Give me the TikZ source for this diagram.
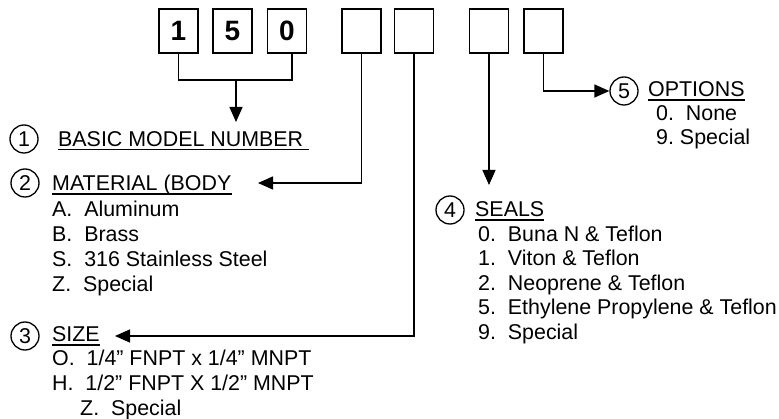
\documentclass[tikz,border=0pt]{standalone}
\usepackage{fontspec}
\setmainfont{Liberation Sans}
\usetikzlibrary{arrows.meta}
\frenchspacing
\begin{document}
\begin{tikzpicture}[x=1pt,y=-1pt,
  txt/.style={anchor=base west, inner sep=0pt, font=\fontsize{21.4}{25}\selectfont},
  digitbox/.style={draw, line width=1.6pt, minimum width=39pt, minimum height=44pt, inner sep=0pt, font=\fontsize{28}{28}\selectfont\bfseries},
  numcircle/.style={draw, circle, line width=1.3pt, minimum size=28pt, inner sep=0pt, font=\fontsize{21.4}{21}\selectfont},
  conn/.style={line width=1.4pt},
  arr/.style={conn, -{Triangle[length=15pt,width=13pt]}},
  uline/.style={line width=1.5pt}]
\useasboundingbox (0,0) rectangle (779,419);
% boxes
\node[digitbox] (b1) at (178.5,31) {1};
\node[digitbox] (b2) at (232.5,31) {5};
\node[digitbox] (b3) at (287,31) {0};
\node[digitbox] (b4) at (361.5,31) {};
\node[digitbox] (b5) at (414,31) {};
\node[digitbox] (b6) at (489,31) {};
\node[digitbox] (b7) at (543.5,31) {};
% 1 basic model number
\coordinate (brk) at (236,80);
\draw[conn] (b1.south) |- (brk) -| ([xshift=5pt]b3.south);
\coordinate (t1) at (236,122);
\draw[arr] (brk) -- (t1);
\node[numcircle] (c1) at (24,139) {1};
\node[txt] (h1) at (58,146.5) {BASIC MODEL NUMBER\kern5.8pt};
\draw[uline] ([yshift=-3pt]h1.base west) -- ([yshift=-3pt]h1.base east);
% 2 material
\node[numcircle] (c2) at (25,183) {2};
\node[txt] (h2) at (52,191) {MATERIAL (BODY};
\draw[uline] ([yshift=-3pt]h2.base west) -- ([yshift=-3pt]h2.base east);
\node[txt] (m1) at (52,217) {A.\ \ Aluminum};
\node[txt] (m2) at (52,242) {B.\ \ Brass};
\node[txt] (m3) at (52,267) {S.\ \ 316 Stainless Steel};
\node[txt] (m4) at (52,292) {Z.\ \ Special};
\coordinate (t2) at (258,183);
\draw[arr] (b4.south) |- (t2);
% 3 size
\node[numcircle] (c3) at (25,336) {3};
\node[txt] (h3) at (52,342) {SIZE};
\draw[uline] ([yshift=-3pt]h3.base west) -- ([yshift=-3pt]h3.base east);
\node[txt] (s1) at (52,366) {O.\ \ 1/4” FNPT x 1/4” MNPT};
\node[txt] (s2) at (52,391) {H.\ \ 1/2” FNPT X 1/2” MNPT};
\node[txt] (s3) at (80,415) {Z.\ \ Special};
\coordinate (t3) at (115,336);
\draw[arr] (b5.south) |- (t3);
% 4 seals
\node[numcircle] (c4) at (450,210) {4};
\node[txt] (h4) at (475,217) {SEALS};
\draw[uline] ([yshift=-3pt]h4.base west) -- ([yshift=-3pt]h4.base east);
\node[txt] (e1) at (478,242) {0.\ \ Buna N \& Teflon};
\node[txt] (e2) at (478,266) {1.\ \ Viton \& Teflon};
\node[txt] (e3) at (478,291) {2.\ \ Neoprene \& Teflon};
\node[txt] (e4) at (478,315) {5.\ \ Ethylene Propylene \& Teflon};
\node[txt] (e5) at (478,340) {9.\ \ Special};
\coordinate (t4) at (489,185);
\draw[arr] (b6.south) -- (t4);
% 5 options
\node[numcircle] (c5) at (624,91) {5};
\node[txt] (h5) at (648,97) {OPTIONS};
\draw[uline] ([yshift=-3pt]h5.base west) -- ([yshift=-3pt]h5.base east);
\node[txt] (o1) at (656,121) {0.\ \ None};
\node[txt] (o2) at (656,145) {9.\ Special};
\draw[arr] (b7.south) |- (c5.west);
\end{tikzpicture}
\end{document}
